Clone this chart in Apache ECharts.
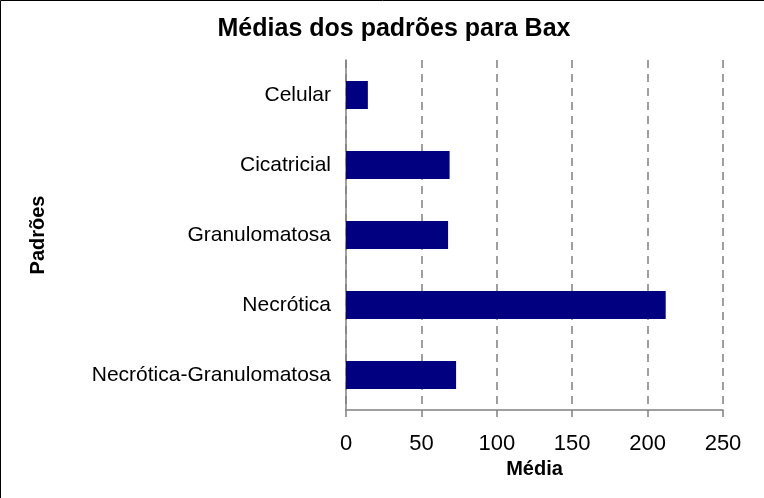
<!DOCTYPE html>
<html>
<head>
<meta charset="utf-8">
<script src="https://cdn.jsdelivr.net/npm/echarts@6/dist/echarts.min.js"></script>
<style>
  html, body { margin: 0; padding: 0; background: #fff; }
  #chart { width: 764px; height: 498px; }
</style>
</head>
<body>
<div id="chart"></div>
<script>
// Mean value per histological pattern
const patterns = ['Celular', 'Cicatricial', 'Granulomatosa', 'Necrótica', 'Necrótica-Granulomatosa'];
const means = [14.5, 68.7, 67.7, 212, 73];
const xTicks = [0, 50, 100, 150, 200, 250];

const font = '"Liberation Sans", Arial, sans-serif';
const chart = echarts.init(document.getElementById('chart'), null, { renderer: 'canvas' });

chart.setOption({
  backgroundColor: '#ffffff',
  animation: false,
  title: {
    text: 'Médias dos padrões para Bax',
    left: 389,
    top: 12,
    textAlign: 'center',
    textStyle: { fontFamily: font, fontSize: 25, fontWeight: 'bold', color: '#000' }
  },
  graphic: [{
    type: 'rect',
    shape: { x: 0.5, y: 0.5, width: 800, height: 600 },
    style: { fill: 'none', stroke: '#000', lineWidth: 1 },
    silent: true
  }],
  grid: { left: 346, right: 41, top: 60, bottom: 88, containLabel: false },
  xAxis: {
    type: 'value',
    min: xTicks[0],
    max: xTicks[xTicks.length - 1],
    interval: xTicks[1] - xTicks[0],
    name: 'Média',
    nameLocation: 'middle',
    nameGap: 47,
    nameTextStyle: { fontFamily: font, fontSize: 20, fontWeight: 'bold', color: '#000' },
    axisLine: { show: true, lineStyle: { color: '#808080', width: 1.5 } },
    axisTick: { show: true, length: 7, lineStyle: { color: '#808080', width: 1.5 } },
    axisLabel: { fontFamily: font, fontSize: 22, color: '#000', margin: 23 },
    splitLine: { show: true, lineStyle: { color: '#808080', type: [8, 6], width: 1.5 } }
  },
  yAxis: {
    type: 'category',
    data: patterns,
    inverse: true,
    name: 'Padrões',
    nameLocation: 'middle',
    nameGap: 298,
    nameRotate: 90,
    nameTextStyle: { fontFamily: font, fontSize: 20, fontWeight: 'bold', color: '#000' },
    axisLine: { show: true, lineStyle: { color: '#808080', width: 1.5 } },
    axisTick: { show: false },
    axisLabel: { fontFamily: font, fontSize: 21, color: '#000', margin: 15 }
  },
  series: [{
    type: 'bar',
    data: means,
    barWidth: 28,
    itemStyle: { color: '#000080' }
  }]
});
</script>
</body>
</html>
